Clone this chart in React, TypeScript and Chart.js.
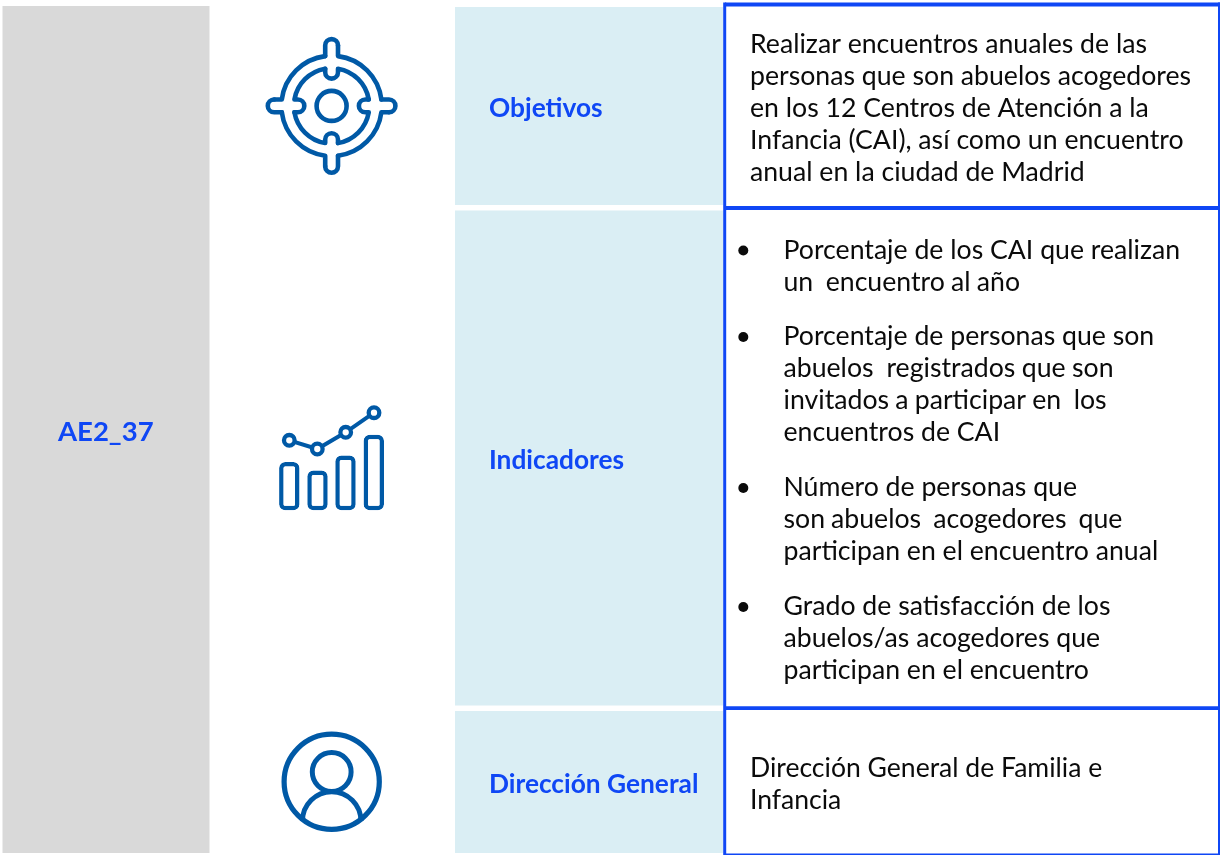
import React, { useEffect, useRef } from "react";
import { Chart, registerables } from "chart.js";

Chart.register(...registerables);

const BLUE = "#0F47F5";
const ICON = "#0059A6";
const BLACK = "#0B0B0B";
const FONT = "Lato";

// rectangles: centre x, width, y start, y end
const panelCentres = [106, 589, 589, 589];
const panelWidths = [207, 268, 268, 268];
const panelYStart = [6, 7, 210.5, 711];
const panelYEnd = [853, 205, 705.5, 853];
const panelColours = ["#D9D9D9", "#DAEEF4", "#DAEEF4", "#DAEEF4"];

const ruleCentres = [724.7, 1219, 972.5, 972.5, 972.5, 972.5];
const ruleWidths = [3, 2, 495, 495, 495, 495];
const ruleYStart = [2.5, 2.5, 2.5, 206, 706.2, 853.5];
const ruleYEnd = [855, 855, 6.5, 210, 710, 855];

const iconBarCentres = [289.3, 317.5, 345.5, 373.8];
const iconBarTops = [462.0, 470.4, 455.4, 434.8];
const iconBarBottom = 510.2;

const iconLineX = [289.3, 317.3, 345.7, 374];
const iconLineY = [440.3, 449, 432.3, 412.7];

const rings = [
  { x: 331.6, y: 105.9, r: 15, w: 4.6 },
  { x: 331.7, y: 781.7, r: 47.6, w: 5.2 },
  { x: 331.7, y: 772, r: 19.4, w: 5 },
];

const sideTitle = "AE2_37";
const rowTitles = ["Objetivos", "Indicadores", "Dirección General"];
const rowTitleY = [109, 461, 785];

const objectiveLines = [
  "Realizar encuentros anuales de las",
  "personas que son abuelos acogedores",
  "en los 12 Centros de Atención a la",
  "Infancia (CAI), así como un encuentro",
  "anual en la ciudad de Madrid",
];
const objectiveY = [44, 76, 108, 140, 172];

const indicatorLines = [
  "Porcentaje de los CAI que realizan",
  "un  encuentro al año",
  "Porcentaje de personas que son",
  "abuelos  registrados que son",
  "invitados a participar en  los",
  "encuentros de CAI",
  "Número de personas que",
  "son abuelos  acogedores  que",
  "participan en el encuentro anual",
  "Grado de satisfacción de los",
  "abuelos/as acogedores que",
  "participan en el encuentro",
];
const indicatorY = [250, 282, 336, 368, 400, 432, 487, 519, 551, 606, 638, 670];
const indicatorWordSpacing = [0, -0.6, 0, -0.4, -0.6, 0, 0, -0.8, 0, 0, 0, 0];
const bulletY = [250.5, 337, 488, 607];
const bulletX = bulletY.map(() => 743.3);

const directorateLines = ["Dirección General de Familia e", "Infancia"];
const directorateY = [768, 800];

const overlay = {
  id: "overlay",
  afterDatasetsDraw(chart: any) {
    const { ctx, scales } = chart;
    const X = (v: number) => scales.x.getPixelForValue(v);
    const Y = (v: number) => scales.y.getPixelForValue(v);
    ctx.save();

    // target icon
    const cx = X(331.6), cy = Y(105.9);
    ctx.strokeStyle = ICON;
    ctx.lineWidth = 4.6;
    ctx.lineCap = "round";
    ctx.lineJoin = "round";
    const hw = 6.4;
    for (let q = 0; q < 4; q++) {
      const a0 = (q * Math.PI) / 2;
      const armCentre = q % 2 === 0 ? 57.4 : 60.4;
      ctx.save();
      ctx.translate(cx, cy);
      ctx.rotate(a0);
      const R = 50.2;
      const dO = Math.asin(hw / R);
      ctx.beginPath();
      ctx.arc(armCentre, 0, hw, Math.PI / 2, -Math.PI / 2, true);
      ctx.lineTo(R * Math.cos(dO), -hw);
      ctx.stroke();
      ctx.beginPath();
      ctx.moveTo(armCentre, hw);
      ctx.lineTo(R * Math.cos(dO), hw);
      ctx.arc(0, 0, R, dO, Math.PI / 2 - dO);
      ctx.stroke();
      const r = 37.7;
      const dI = Math.asin(hw / r);
      ctx.beginPath();
      ctx.moveTo(r * Math.cos(dI), -hw);
      ctx.lineTo(33.7, -hw);
      ctx.arc(33.7, 0, hw, -Math.PI / 2, Math.PI / 2, true);
      ctx.lineTo(r * Math.cos(dI), hw);
      ctx.arc(0, 0, r, dI, Math.PI / 2 - dI);
      ctx.stroke();
      ctx.restore();
    }

    // person shoulders
    ctx.lineWidth = 5;
    ctx.lineCap = "butt";
    ctx.beginPath();
    ctx.arc(X(331.7), Y(821), 29.2, Math.PI * 1.0, Math.PI * 2.0);
    ctx.stroke();

    // text
    ctx.textBaseline = "middle";
    ctx.textAlign = "left";
    ctx.fillStyle = BLUE;
    ctx.font = `bold 27.5px ${FONT}`;
    ctx.fillText(sideTitle, X(58), Y(431.7));
    ctx.font = `bold 26.3px ${FONT}`;
    rowTitles.forEach((t, i) => ctx.fillText(t, X(489), Y(rowTitleY[i])));

    ctx.fillStyle = BLACK;
    ctx.font = `26.67px ${FONT}`;
    objectiveLines.forEach((t, i) => ctx.fillText(t, X(750), Y(objectiveY[i])));
    indicatorLines.forEach((t, i) => {
      ctx.wordSpacing = `${indicatorWordSpacing[i]}px`;
      ctx.fillText(t, X(783.5), Y(indicatorY[i]));
    });
    ctx.wordSpacing = "0px";
    ctx.font = `26.55px ${FONT}`;
    directorateLines.forEach((t, i) => ctx.fillText(t, X(750), Y(directorateY[i])));
    ctx.restore();
  },
};

export default function App() {
  const ref = useRef<HTMLCanvasElement>(null);
  useEffect(() => {
    const datasets: any[] = [];
    panelCentres.forEach((x, i) =>
      datasets.push({
        type: "bar",
        data: [{ x, y: [panelYStart[i], panelYEnd[i]] }],
        barThickness: panelWidths[i],
        backgroundColor: panelColours[i],
        order: 20,
      })
    );
    ruleCentres.forEach((x, i) =>
      datasets.push({
        type: "bar",
        data: [{ x, y: [ruleYStart[i], ruleYEnd[i]] }],
        barThickness: ruleWidths[i],
        backgroundColor: BLUE,
        order: 15,
      })
    );
    iconBarCentres.forEach((x, i) =>
      datasets.push({
        type: "bar",
        data: [{ x, y: [iconBarTops[i], iconBarBottom] }],
        barThickness: 20.4,
        backgroundColor: "#FFFFFF",
        borderColor: ICON,
        borderWidth: 4.5,
        borderRadius: 6,
        borderSkipped: false,
        order: 10,
      })
    );
    datasets.push({
      type: "line",
      data: iconLineX.map((x, i) => ({ x, y: iconLineY[i] })),
      borderColor: ICON,
      borderWidth: 4,
      pointRadius: 5.3,
      pointBorderWidth: 4.3,
      pointBorderColor: ICON,
      pointBackgroundColor: "#FFFFFF",
      order: 5,
    });
    rings.forEach((c) =>
      datasets.push({
        type: "scatter",
        data: [{ x: c.x, y: c.y }],
        pointRadius: c.r,
        pointBorderWidth: c.w,
        pointBorderColor: ICON,
        pointBackgroundColor: "rgba(0,0,0,0)",
        order: 4,
      })
    );
    bulletX.forEach((x, i) =>
      datasets.push({
        type: "scatter",
        data: [{ x, y: bulletY[i] }],
        pointRadius: 5,
        pointBorderWidth: 0,
        pointBackgroundColor: BLACK,
        order: 3,
      })
    );

    const chart = new Chart(ref.current!, {
      type: "bar",
      data: { datasets },
      plugins: [overlay],
      options: {
        responsive: false,
        animation: false,
        layout: { padding: 0, autoPadding: false },
        datasets: { bar: { grouped: false, inflateAmount: 0 } as any },
        plugins: { legend: { display: false }, tooltip: { enabled: false } },
        scales: {
          x: { type: "linear", min: 0, max: 1220, display: false, offset: false },
          y: { type: "linear", min: 0, max: 856, reverse: true, display: false },
        },
      },
    } as any);
    return () => chart.destroy();
  }, []);
  return (
    <canvas
      ref={ref}
      width={1220}
      height={856}
      style={{ position: "absolute", left: 0, top: 0, width: 1220, height: 856, display: "block" }}
    />
  );
}
